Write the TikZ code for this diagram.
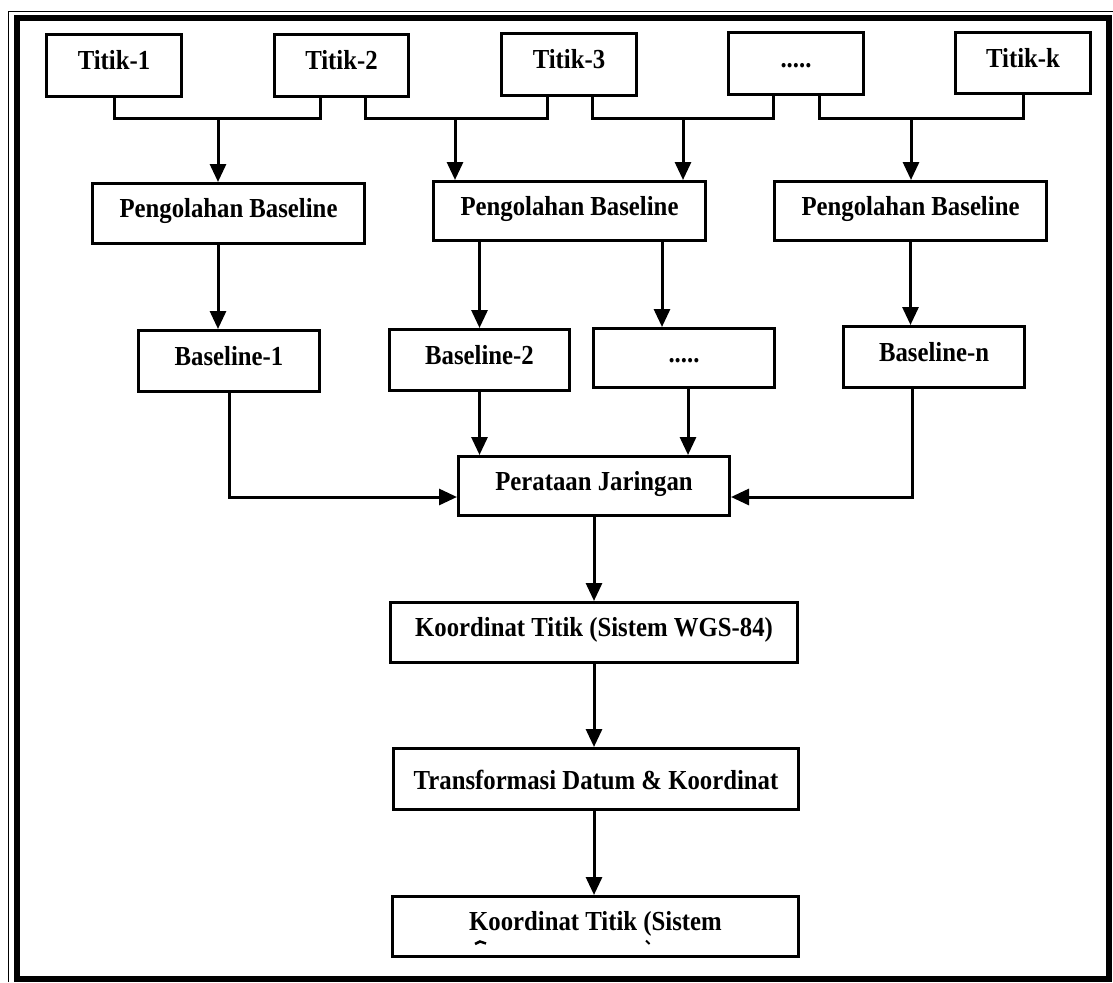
\documentclass[tikz,border=0pt]{standalone}
\usepackage{fontspec}
\setmainfont{Liberation Serif}[FakeStretch=0.9]
\usetikzlibrary{arrows.meta}
\begin{document}
\begin{tikzpicture}[x=1pt,y=-1pt,
  box/.style={draw, line width=3pt, fill=white, inner sep=0pt,
    font=\fontsize{27.5}{32}\selectfont\bfseries,
    text height=14pt, text depth=6pt},
  wire/.style={line width=3pt},
  arr/.style={line width=3pt, -{Triangle[length=18pt,width=16pt]}}]
\useasboundingbox (0,0) rectangle (1113,982);
\fill[white] (0,0) rectangle (1113,982);
% double frame round the chart
\draw[line width=1.3pt] (8.5,982) -- (8.5,11.5) -- (1113,11.5);
\draw[line width=6pt] (17,18) rectangle (1109,979);

% survey points
\node[box, minimum width=135pt, minimum height=62pt] (T1) at (114,65.5) {Titik-1};
\node[box, minimum width=134pt, minimum height=62pt] (T2) at (341.5,65.5) {Titik-2};
\node[box, minimum width=135pt, minimum height=62pt] (T3) at (569,64.5) {Titik-3};
\node[box, minimum width=135pt, minimum height=61pt] (T4) at (796,63.5) {.....};
\node[box, minimum width=135pt, minimum height=61pt] (Tk) at (1023,63) {Titik-k};

% baseline processing
\node[box, minimum width=272pt, minimum height=60pt] (PB1) at (228.5,213.5) {Pengolahan Baseline};
\node[box, minimum width=272pt, minimum height=59pt] (PB2) at (569.5,211) {Pengolahan Baseline};
\node[box, minimum width=272pt, minimum height=59pt] (PB3) at (910.5,211) {Pengolahan Baseline};

% baselines
\node[box, minimum width=181pt, minimum height=61pt] (B1) at (229,361) {Baseline-1};
\node[box, minimum width=180pt, minimum height=61pt] (B2) at (479.5,360) {Baseline-2};
\node[box, minimum width=181pt, minimum height=59pt] (D2) at (684,358) {.....};
\node[box, minimum width=181pt, minimum height=61pt] (Bn) at (934,357) {Baseline-n};

% adjustment and coordinates
\node[box, minimum width=271pt, minimum height=59pt] (PJ) at (594,486) {Perataan Jaringan};
\node[box, minimum width=407pt, minimum height=60pt] (K1) at (594,632.5) {Koordinat Titik (Sistem WGS-84)};
\node[box, minimum width=405pt, minimum height=61pt, text height=24pt, text depth=4pt] (TR) at (596,779) {Transformasi Datum \& Koordinat};
\node[box, minimum width=406pt, minimum height=60pt] (K2) at (595.5,926.5) {Koordinat Titik (Sistem};
% tops of the cut-off second line
\draw[line width=2.5pt] (475,944) -- (480,941.5) -- (486,943.5);
\draw[line width=2pt] (646,940.5) -- (649.5,944);

% collector lines under the points
\coordinate (j1) at (218,118);
\coordinate (j2) at (455,118);
\coordinate (j3) at (683,118);
\coordinate (j4) at (911,118);
\draw[wire] (T1.south) |- (j1) -| ([xshift=-21.5pt]T2.south);
\draw[wire] ([xshift=23.5pt]T2.south) |- (j2) -| ([xshift=-22pt]T3.south);
\draw[wire] ([xshift=23pt]T3.south) |- (j3) -| ([xshift=-23pt]T4.south);
\draw[wire] ([xshift=23pt]T4.south) |- (j4) -| (Tk.south);
\draw[arr] (j1) -- (j1 |- PB1.north);
\draw[arr] (j2) -- (j2 |- PB2.north);
\draw[arr] (j3) -- (j3 |- PB2.north);
\draw[arr] (j4) -- (j4 |- PB3.north);

% processing to baselines
\draw[arr] (PB1.south -| j1) -- (B1.north -| j1);
\draw[arr] (PB2.south -| B2.north) -- (B2.north);
\draw[arr] ([xshift=-22pt]D2.north |- PB2.south) -- ([xshift=-22pt]D2.north);
\draw[arr] (PB3.south) -- (PB3.south |- Bn.north);

% baselines into the network adjustment
\draw[arr] (B2.south) -- (B2.south |- PJ.north);
\draw[arr] ([xshift=4pt]D2.south) -- ([xshift=4pt]D2.south |- PJ.north);
\draw[arr] (B1.south) |- ([yshift=-11pt]PJ.west);
\draw[arr] ([xshift=-22pt]Bn.south) |- ([yshift=-11pt]PJ.east);

% main chain
\draw[arr] (PJ.south) -- (PJ.south |- K1.north);
\draw[arr] (K1.south) -- (K1.south |- TR.north);
\draw[arr] (TR.south -| K1.south) -- (K1.south |- K2.north);
\end{tikzpicture}
\end{document}
